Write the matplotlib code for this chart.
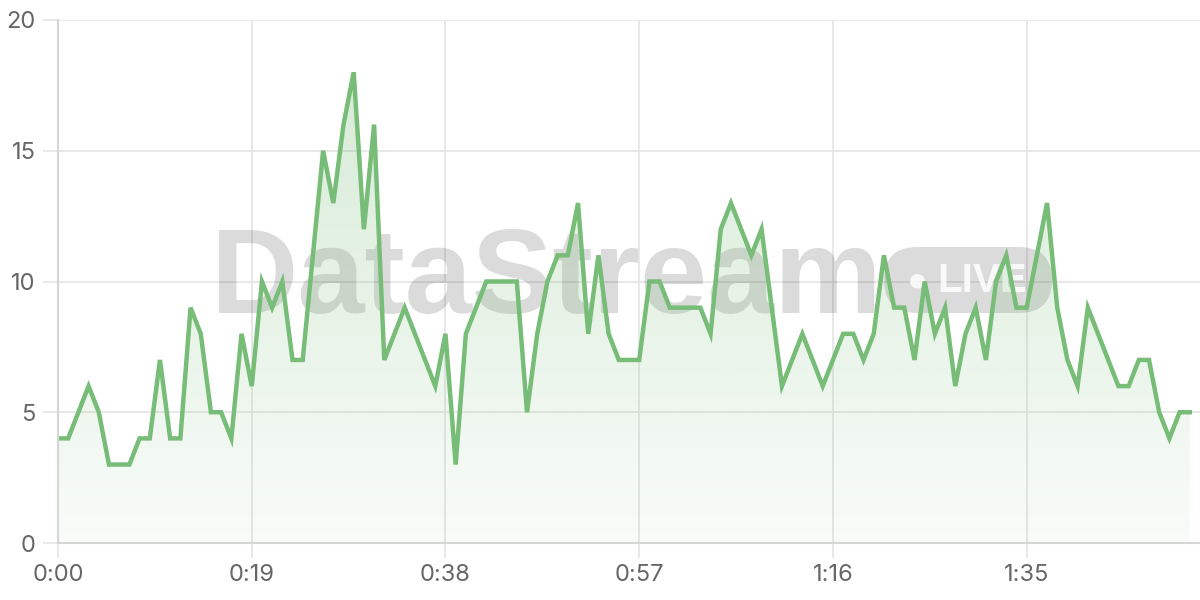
import numpy as np
import matplotlib
matplotlib.use("Agg")
import matplotlib.pyplot as plt
from matplotlib.patches import FancyBboxPatch
from matplotlib.transforms import IdentityTransform

# viewers per second, one sample each second
counts = [4, 4, 5, 6, 5, 3, 3, 3, 4, 4, 7, 4, 4, 9, 8, 5, 5, 4, 8, 6,
          10, 9, 10, 7, 7, 11, 15, 13, 16, 18, 12, 16, 7, 8, 9, 8, 7, 6, 8, 3,
          8, 9, 10, 10, 10, 10, 5, 8, 10, 11, 11, 13, 8, 11, 8, 7, 7, 7, 10, 10,
          9, 9, 9, 9, 8, 12, 13, 12, 11, 12, 9, 6, 7, 8, 7, 6, 7, 8, 8, 7,
          8, 11, 9, 9, 7, 10, 8, 9, 6, 8, 9, 7, 10, 11, 9, 9, 11, 13, 9, 7,
          6, 9, 8, 7, 6, 6, 7, 7, 5, 4, 5, 5]
seconds = list(range(len(counts)))

xtick_pos = [0, 19, 38, 57, 76, 95]
xtick_labels = ["0:00", "0:19", "0:38", "0:57", "1:16", "1:35"]
ytick_pos = [0, 5, 10, 15, 20]

line_color = "#77bc77"
grid_color = "#e6e6e6"
axis_color = "#d6d6d6"
text_color = "#666666"

plt.rcParams['font.family'] = ['Inter', 'DejaVu Sans']

fig = plt.figure(figsize=(12, 6), dpi=100)
ax = fig.add_axes([58 / 1200, 57 / 600, 1142 / 1200, 523 / 600])
ax.set_xlim(0, 112)
ax.set_ylim(0, 20)

# watermark (under the line and fill)
ax.text(211 / 1200, 1 - 313 / 600, "DataStream", fontsize=87, fontweight="bold",
        family="Liberation Sans", color="black", alpha=0.14, va="baseline", ha="left",
        transform=fig.transFigure, zorder=0.8, clip_on=False)
pill = FancyBboxPatch((884, 600 - 313), 168, 66,
                      boxstyle="round,pad=0,rounding_size=33", transform=IdentityTransform(),
                      facecolor="black", alpha=0.14, edgecolor="none", zorder=0.8)
ax.add_artist(pill)
ax.text(937 / 1200, 1 - 281 / 600, "LIVE", fontsize=29, fontweight="bold",
        family="Liberation Sans", color="white", alpha=0.85, va="center", ha="left",
        transform=fig.transFigure, zorder=0.9, clip_on=False)
ax.text(917 / 1200, 1 - 280 / 600, "\u25cf", fontsize=14, color="white", alpha=0.85,
        family="DejaVu Sans", va="center", ha="center",
        transform=fig.transFigure, zorder=0.9, clip_on=False)

# gradient fill under the line
poly = ax.fill_between(seconds, counts, 0, facecolor="none", edgecolor="none")
rgb = matplotlib.colors.to_rgb(line_color)
alpha = np.linspace(0.05, 0.32, 256).reshape(-1, 1)
grad = np.zeros((256, 1, 4))
grad[..., 0], grad[..., 1], grad[..., 2] = rgb
grad[..., 3] = alpha
img = ax.imshow(grad, extent=[0, 112, 0, 20], origin="lower", aspect="auto", zorder=1)
img.set_clip_path(poly.get_paths()[0], transform=ax.transData)

ax.plot(seconds, counts, color=line_color, lw=3.2, zorder=2, solid_joinstyle="miter")

ax.set_xticks(xtick_pos)
ax.set_xticklabels(xtick_labels)
ax.set_yticks(ytick_pos)
ax.grid(True, color=grid_color, lw=1.3)
ax.set_axisbelow(True)
ax.tick_params(axis="both", length=11, width=1.3, color=grid_color, labelcolor=text_color,
               labelsize=17)
ax.tick_params(axis="x", pad=4)
ax.tick_params(axis="y", pad=5)
for s in ["top", "right"]:
    ax.spines[s].set_visible(False)
for s in ["left", "bottom"]:
    ax.spines[s].set_color(axis_color)
    ax.spines[s].set_linewidth(1.5)

fig.savefig("out.png", dpi=100)
